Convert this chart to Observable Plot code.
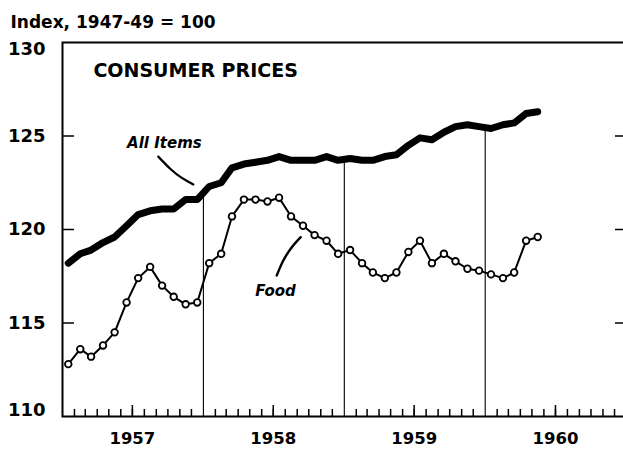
<!DOCTYPE html>
<html><head><meta charset="utf-8">
<script src="https://cdn.jsdelivr.net/npm/d3@7"></script>
<script src="https://cdn.jsdelivr.net/npm/@observablehq/plot@0.6"></script>
<style>body{margin:0;background:#fff}</style>
</head><body><div id="chart"></div><script>
// Monthly index values, Jan 1957 – May 1960 (1947-49 = 100)
const allItems = [
  118.2, 118.7, 118.9, 119.3, 119.6, 120.2, 120.8, 121.0, 121.1, 121.1, 121.6, 121.6,
  122.3, 122.5, 123.3, 123.5, 123.6, 123.7, 123.9, 123.7, 123.7, 123.7, 123.9, 123.7,
  123.8, 123.7, 123.7, 123.9, 124.0, 124.5, 124.9, 124.8, 125.2, 125.5, 125.6, 125.5,
  125.4, 125.6, 125.7, 126.2, 126.3
];
const food = [
  112.8, 113.6, 113.2, 113.8, 114.5, 116.1, 117.4, 118.0, 117.0, 116.4, 116.0, 116.1,
  118.2, 118.7, 120.7, 121.6, 121.6, 121.5, 121.7, 120.7, 120.2, 119.7, 119.4, 118.7,
  118.9, 118.2, 117.7, 117.4, 117.7, 118.8, 119.4, 118.2, 118.7, 118.3, 117.9, 117.8,
  117.6, 117.4, 117.7, 119.4, 119.6
];
const years = [1957, 1958, 1959, 1960];
const yTickLabels = [130, 125, 120, 115, 110];
const yInnerTicks = [125, 120, 115];
const indexLabel = "Index, 1947-49 = 100";
const titleLabel = [{text: "CONSUMER PRICES", date: "1957-03-22", value: 128.5}];
const seriesLabels = [
  {text: "All Items", date: "1957-09-22", value: 124.6},
  {text: "Food", date: "1958-07-07", value: 116.7}
];
const leaderAll = [
  {date: "1957-09-06", value: 123.9},
  {date: "1957-10-07", value: 123.25},
  {date: "1957-11-06", value: 122.76},
  {date: "1957-12-06", value: 122.41}
];
const leaderFood = [
  {date: "1958-07-10", value: 117.54},
  {date: "1958-07-27", value: 118.34},
  {date: "1958-08-18", value: 119.05},
  {date: "1958-09-10", value: 119.59}
];

const start = new Date(Date.UTC(1957, 0, 1));
const end = new Date(Date.UTC(1961, 0, 1));
const months = d3.utcMonth.range(start, new Date(Date.UTC(1960, 5, 1)));
const table = months.map((m, i) => ({date: d3.utcDay.offset(m, 15), all: allItems[i], food: food[i]}));
const monthTicks = d3.utcMonth.range(start, end).filter(d => d.getUTCMonth() !== 0);
const midTicks = years.map(y => new Date(Date.UTC(y, 6, 1)));
const dividers = years.slice(1).map((y, k) => {
  const i = (k + 1) * 12; // January index of that year
  return {date: new Date(Date.UTC(y, 0, 1)), top: (allItems[i - 1] + allItems[i]) / 2};
});
const parse = d => ({...d, date: new Date(d.date + "T00:00:00Z")});

const FONT = "DejaVu Sans";
const yLabel = (vals, dy) => Plot.text(vals, {x: start, y: d => d, text: d => String(d), textAnchor: "end", dx: -17,
  dy, fontSize: 18, fontWeight: "bold", fontFamily: FONT});
const chart = Plot.plot({
  width: 623, height: 449,
  marginLeft: 62, marginRight: -3, marginTop: 42, marginBottom: 33,
  x: {type: "utc", domain: [start, end], axis: null},
  y: {domain: [110, 130], axis: null},
  style: {fontFamily: FONT, background: "white", color: "black", overflow: "hidden"},
  marks: [
    Plot.ruleX(dividers, {x: "date", y1: 110, y2: "top", stroke: "black", strokeWidth: 1.1}),
    Plot.axisX({ticks: monthTicks, tickSize: -7, tickFormat: () => "", label: null, strokeWidth: 1.5}),
    Plot.axisX({ticks: midTicks, tickSize: -11, tickFormat: () => "", label: null, strokeWidth: 1.5}),
    Plot.axisY({anchor: "left", ticks: yInnerTicks, tickSize: -12, tickFormat: () => "", label: null, strokeWidth: 1.5}),
    Plot.axisY({anchor: "right", ticks: yInnerTicks, tickSize: -12, tickFormat: () => "", label: null, strokeWidth: 1.5}),
    Plot.frame({stroke: "black", strokeWidth: 2}),
    Plot.line(table, {x: "date", y: "all", stroke: "black", strokeWidth: 7, strokeLinecap: "round", strokeLinejoin: "round"}),
    Plot.line(table, {x: "date", y: "food", stroke: "black", strokeWidth: 2}),
    Plot.dot(table, {x: "date", y: "food", r: 3.3, fill: "white", stroke: "black", strokeWidth: 1.8}),
    Plot.line(leaderAll.map(parse), {x: "date", y: "value", curve: "natural", stroke: "black", strokeWidth: 2.2}),
    Plot.line(leaderFood.map(parse), {x: "date", y: "value", curve: "natural", stroke: "black", strokeWidth: 2.4}),
    Plot.text(titleLabel.map(parse), {x: "date", y: "value", text: "text", textAnchor: "start", fontSize: 19, fontWeight: "bold", fontFamily: FONT}),
    Plot.text(seriesLabels.map(parse), {x: "date", y: "value", text: "text", fontSize: 15, fontWeight: "bold", fontStyle: "italic", fontFamily: FONT}),
    yLabel(yTickLabels.filter(d => d !== 130 && d !== 110), 0),
    yLabel(yTickLabels.filter(d => d === 130), 7),
    yLabel(yTickLabels.filter(d => d === 110), -6),
    Plot.text(years, {x: d => new Date(Date.UTC(d, 6, 1)), y: 110, dy: 22, text: d => String(d), fontSize: 16.5, fontWeight: "bold", fontFamily: FONT}),
    Plot.text([indexLabel], {frameAnchor: "top-left", textAnchor: "start", lineAnchor: "middle", dx: -52, dy: -20, text: d => d, fontSize: 17, fontWeight: "bold", fontFamily: FONT})
  ]
});
document.getElementById("chart").appendChild(chart);
</script></body></html>
